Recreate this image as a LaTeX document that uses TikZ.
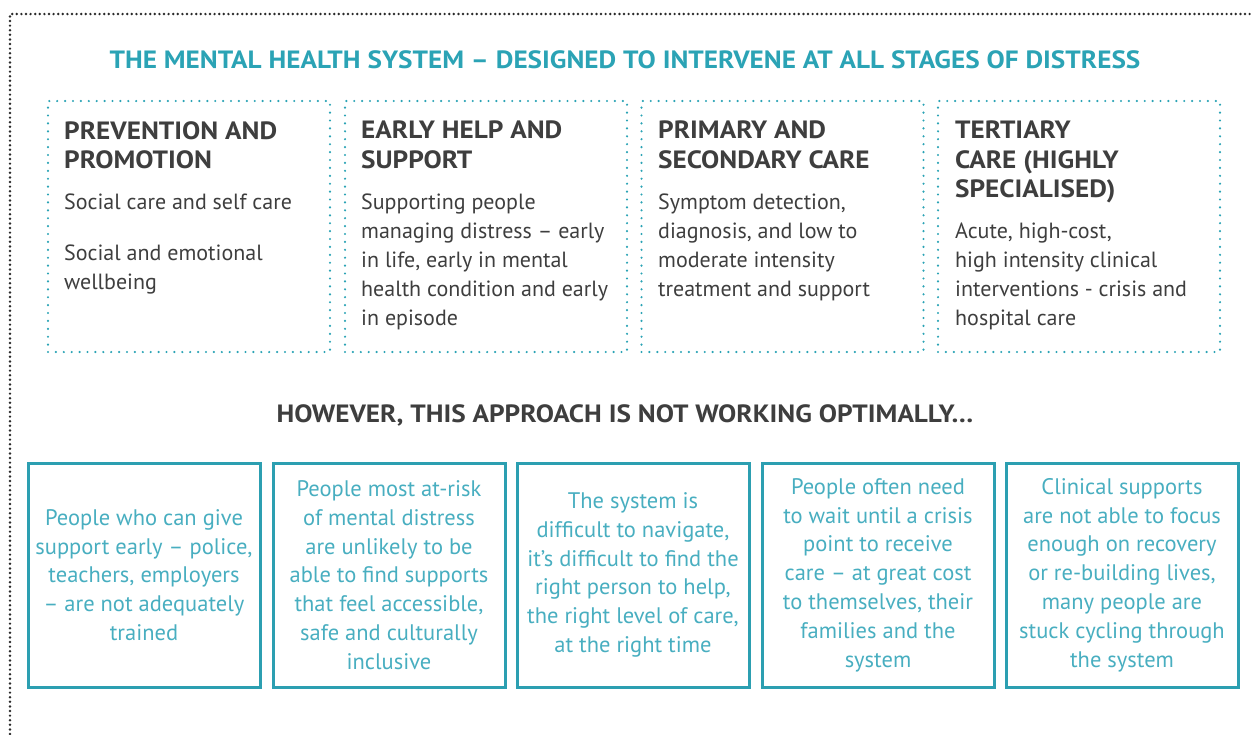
\documentclass[tikz,border=0pt]{standalone}
\usepackage{fontspec}
\setmainfont{PT Sans}
\newfontfamily\capsfont[FakeStretch=1.09,Ligatures=TeX]{PT Sans}
\usepackage{tikz}
\usetikzlibrary{positioning}
\definecolor{tealhead}{HTML}{2BA3B5}
\definecolor{tealline}{HTML}{2C9FB1}
\definecolor{tealtext}{HTML}{48AEC0}
\definecolor{darktext}{HTML}{3E3E3E}
\definecolor{dotgray}{HTML}{2A2A2A}

\tikzset{
  outerdots/.style={dotgray, line width=2.7pt, dash pattern=on 0pt off 4.6pt, line cap=round},
  stagebox/.style={draw=tealhead, line width=2.4pt, dash pattern=on 0pt off 7.9pt, line cap=round, minimum width=282pt, minimum height=251pt, inner sep=0pt},
  stagetitle/.style={anchor=north west, align=left, inner sep=0pt, text=darktext, font=\capsfont\bfseries\fontsize{25}{29.5}\selectfont},
  stagetext/.style={anchor=north west, align=left, inner sep=0pt, text=darktext, font=\fontsize{22}{29}\selectfont},
  issuebox/.style={draw=tealline, line width=3pt, minimum width=232pt, minimum height=224pt, inner sep=0pt, align=center, text=tealtext, font=\fontsize{22.5}{28.8}\selectfont},
  heading/.style={font=\capsfont\bfseries\fontsize{25}{29}\selectfont}
}

\begin{document}
\begin{tikzpicture}[x=1pt,y=-1pt]
\useasboundingbox (0,0) rectangle (1253,734);
\draw[outerdots] (10,734) -- (10,14) -- (1253,14);

\node[heading, text=tealhead] (title) at (625,60) {THE MENTAL HEALTH SYSTEM – DESIGNED TO INTERVENE AT ALL STAGES OF DISTRESS};

\node[stagebox] (prevention) at (189,226.5) {};
\node[stagebox] (earlyhelp) at (486,226.5) {};
\node[stagebox] (primary) at (782.5,226.5) {};
\node[stagebox] (tertiary) at (1079,226.5) {};

\node[stagetitle] (preventiont) at (64,121) {PREVENTION AND\\PROMOTION};
\node[stagetitle] (earlyhelpt) at (361,121) {EARLY HELP AND\\SUPPORT};
\node[stagetitle] (primaryt) at (658,121) {PRIMARY AND\\SECONDARY CARE};
\node[stagetitle] (tertiaryt) at (955,121) {TERTIARY\\CARE (HIGHLY\\SPECIALISED)};

\node[stagetext] (preventionb) at (64,194) {Social care and self care\\[22pt]Social and emotional\\wellbeing};
\node[stagetext] (earlyhelpb) at (361,194) {Supporting people\\managing distress – early\\in life, early in mental\\health condition and early\\in episode};
\node[stagetext] (primaryb) at (658,194) {Symptom detection,\\diagnosis, and low to\\moderate intensity\\treatment and support};
\node[stagetext] (tertiaryb) at (955,223) {Acute, high-cost,\\high intensity clinical\\interventions - crisis and\\hospital care};

\node[heading, text=darktext] (however) at (625,415) {HOWEVER, THIS APPROACH IS NOT WORKING OPTIMALLY…};

\node[issuebox] (training) at (144,575) {People who can give\\support early – police,\\teachers, employers\\– are not adequately\\trained};
\node[issuebox] (access) at (389,575) {People most at-risk\\of mental distress\\are unlikely to be\\able to find supports\\that feel accessible,\\safe and culturally\\inclusive};
\node[issuebox] (navigate) at (633,575) {The system is\\difficult to navigate,\\it’s difficult to find the\\right person to help,\\the right level of care,\\at the right time};
\node[issuebox] (crisis) at (878,575) {People often need\\to wait until a crisis\\point to receive\\care – at great cost\\to themselves, their\\families and the\\system};
\node[issuebox] (recovery) at (1122,575) {Clinical supports\\are not able to focus\\enough on recovery\\or re-building lives,\\many people are\\stuck cycling through\\the system};
\end{tikzpicture}
\end{document}
